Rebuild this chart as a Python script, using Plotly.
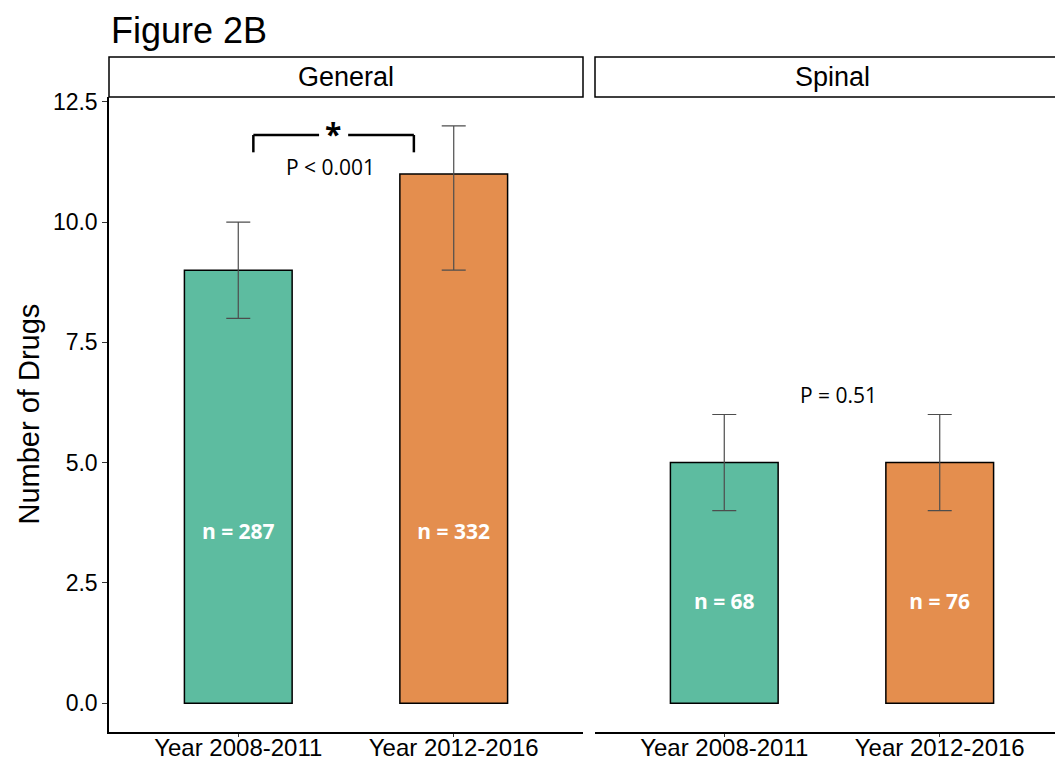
import plotly.graph_objects as go

# ---- data ----
periods = ["Year 2008-2011", "Year 2012-2016"]
panels = ["General", "Spinal"]
general_values = [9, 11]
general_err_low = [8, 9]
general_err_high = [10, 12]
spinal_values = [5, 5]
spinal_err_low = [4, 4]
spinal_err_high = [6, 6]
general_n = ["n = 287", "n = 332"]
spinal_n = ["n = 68", "n = 76"]
general_n_y = [3.53, 3.53]
spinal_n_y = [2.07, 2.07]
bar_colors = ["#5DBCA0", "#E48E4E"]

W, H = 1063, 765
ML, MR, MT, MB = 101, 2, 89, 41
PW = W - ML - MR
PH = H - MT - MB
gap = 12
pw1 = (PW - gap) / 2
d1 = [0, pw1 / PW]
d2 = [(pw1 + gap) / PW, 1]

AR = "Arial, Liberation Sans, sans-serif"
CAL = "Open Sans, sans-serif"

fig = go.Figure()

def add_panel(values, lo, hi, labels, label_y, xa, ya):
    fig.add_trace(go.Bar(
        x=periods, y=values, xaxis=xa, yaxis=ya, width=0.5,
        marker=dict(color=bar_colors, line=dict(color="black", width=1.5)),
        error_y=dict(type="data", symmetric=False,
                     array=[h - v for h, v in zip(hi, values)],
                     arrayminus=[v - l for l, v in zip(lo, values)],
                     color="#4d4d4d", thickness=1.2, width=12),
        showlegend=False, hoverinfo="skip"))
    fig.add_trace(go.Scatter(
        x=periods, y=label_y, xaxis=xa, yaxis=ya, mode="text", text=labels,
        textfont=dict(family=CAL, size=21, color="white", weight="bold"),
        showlegend=False, hoverinfo="skip"))

add_panel(general_values, general_err_low, general_err_high, general_n, general_n_y, "x", "y")
add_panel(spinal_values, spinal_err_low, spinal_err_high, spinal_n, spinal_n_y, "x2", "y2")

yr = [-0.6, 12.6]
xr = [-0.6, 1.6]
axcommon = dict(showgrid=False, zeroline=False, showline=True, linecolor="black",
                linewidth=1.5, ticks="outside", ticklen=5, tickcolor="#333333")
xfont = dict(family=AR, size=24, color="black")
yfont = dict(family=AR, size=23, color="black")
fig.update_layout(
    width=W, height=H, margin=dict(l=ML, r=MR, t=MT, b=MB),
    plot_bgcolor="white", paper_bgcolor="white", bargap=0.5,
    xaxis=dict(domain=d1, range=xr, type="category", tickfont=xfont, **axcommon),
    xaxis2=dict(domain=d2, range=xr, type="category", anchor="y2", tickfont=xfont, **axcommon),
    yaxis=dict(range=yr, tickvals=[0, 2.5, 5, 7.5, 10, 12.5],
               ticktext=["0.0", "2.5", "5.0", "7.5", "10.0", "12.5"],
               tickfont=yfont, **axcommon),
    yaxis2=dict(range=yr, anchor="x2", showgrid=False, zeroline=False,
                showline=False, showticklabels=False, ticks=""),
)
try:
    fig.update_xaxes(ticklen=3, ticklabelstandoff=-10)
except Exception:
    fig.update_xaxes(ticklen=3)

# facet strips
sh = 40 / PH
for dom, name in [(d1, panels[0]), (d2, panels[1])]:
    fig.add_shape(type="rect", xref="paper", yref="paper", x0=dom[0], x1=dom[1],
                  y0=1.0, y1=1 + sh, line=dict(color="black", width=1.5),
                  fillcolor="white")
    fig.add_annotation(xref="paper", yref="paper", x=(dom[0] + dom[1]) / 2,
                       y=1 + sh / 2, text=name, showarrow=False,
                       font=dict(family=AR, size=27, color="black"),
                       xanchor="center", yanchor="middle")

# significance bracket (general panel)
bl = dict(color="black", width=2.5)
fig.add_shape(type="line", xref="x", yref="y", x0=0.07, x1=0.07, y0=11.45, y1=11.81, line=bl)
fig.add_shape(type="line", xref="x", yref="y", x0=0.07, x1=0.375, y0=11.81, y1=11.81, line=bl)
fig.add_shape(type="line", xref="x", yref="y", x0=0.51, x1=0.815, y0=11.81, y1=11.81, line=bl)
fig.add_shape(type="line", xref="x", yref="y", x0=0.815, x1=0.815, y0=11.45, y1=11.81, line=bl)
fig.add_annotation(xref="x", yref="y", x=0.44, y=11.85, text="<b>*</b>", showarrow=False,
                   font=dict(family=CAL, size=30, color="black"), yanchor="middle")
fig.add_annotation(xref="x", yref="y", x=0.43, y=11.14, text="P &lt; 0.001", showarrow=False,
                   font=dict(family=CAL, size=21, color="black"), yanchor="middle")
fig.add_annotation(xref="x2", yref="y2", x=0.53, y=6.4, text="P = 0.51", showarrow=False,
                   font=dict(family=CAL, size=21, color="black"), yanchor="middle")

# title and y label
fig.add_annotation(xref="paper", yref="paper", x=0, y=1 + (MT - 22) / PH, text="Figure 2B",
                   showarrow=False, xanchor="left", yanchor="middle",
                   font=dict(family=AR, size=36, color="black"))
fig.add_annotation(xref="paper", yref="paper", x=-(ML - 20) / PW, y=0.5, text="Number of Drugs",
                   showarrow=False, textangle=-90, xanchor="center", yanchor="middle",
                   font=dict(family=AR, size=29, color="black"))

fig.write_html("out.html")
